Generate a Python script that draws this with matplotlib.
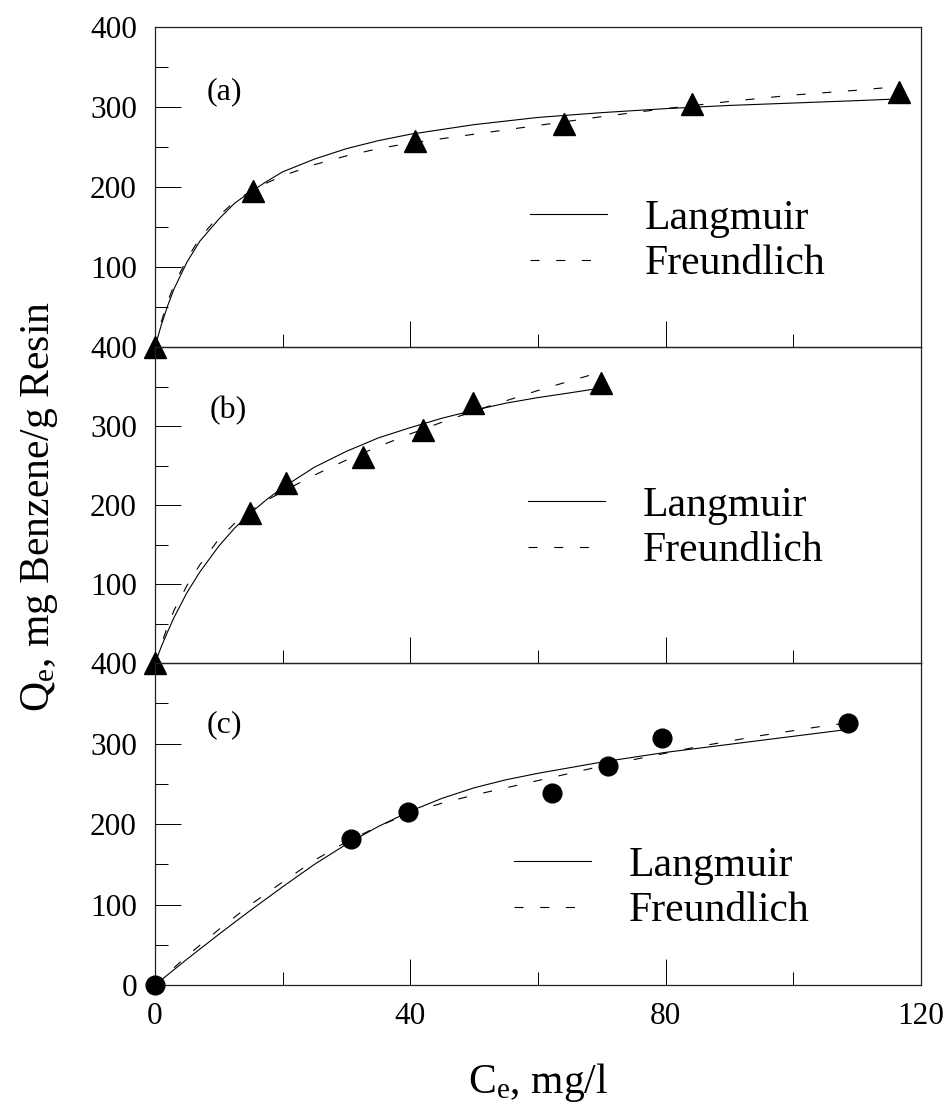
import matplotlib

matplotlib.use("Agg")
import matplotlib.pyplot as plt
from matplotlib.ticker import MultipleLocator

plt.rcParams["font.family"] = ["Liberation Serif", "DejaVu Serif"]
plt.rcParams["mathtext.fontset"] = "custom"
plt.rcParams["mathtext.rm"] = "Liberation Serif"
plt.rcParams["mathtext.it"] = "Liberation Serif:italic"
plt.rcParams["lines.scale_dashes"] = False

# (a) measured points and model curves
ce_a = [0, 15.3, 40.8, 64, 84.2, 116.5]
qe_a = [0, 195, 257, 279, 304, 319]
lang_x_a = [0, 1, 2, 3, 5, 7, 10, 12.5, 15, 17.5, 20, 25, 30, 35, 40, 50, 60, 70, 80, 90, 100, 110, 116]
lang_y_a = [0, 28, 52, 73, 106, 132, 160, 180, 194, 207, 219, 235, 248, 258, 266, 278, 287, 293, 298, 302, 305, 308, 310]
freu_x_a = [0, 1, 2, 3, 5, 7, 10, 12.5, 15, 17.5, 20, 25, 30, 35, 40, 50, 60, 70, 80, 90, 100, 110, 117]
freu_y_a = [0, 32, 57, 78, 110, 136, 164, 182, 195, 205, 214, 228, 239, 248, 255, 266, 277, 288, 298, 307, 315, 321, 326]

# (b)
ce_b = [0, 14.9, 20.5, 32.6, 42, 49.8, 69.9]
qe_b = [0, 190, 228, 261, 295, 329, 355]
lang_x_b = [0, 1, 2, 3, 5, 7, 10, 12.5, 15, 17.5, 20, 25, 30, 35, 40, 45, 50, 55, 60, 65, 69]
lang_y_b = [0, 21, 40, 58, 89, 115, 148, 171, 190, 207, 222, 248, 268, 285, 298, 310, 320, 329, 336, 342, 347]
freu_x_b = [0, 1, 2, 3, 5, 7, 10, 12.5, 15, 17.5, 20, 25, 30, 35, 40, 45, 50, 55, 60, 65, 68]
freu_y_b = [0, 24, 47, 67, 98, 124, 157, 177, 193, 206, 217, 238, 257, 274, 290, 305, 319, 332, 345, 357, 364]

# (c)
ce_c = [0, 30.7, 39.6, 62.2, 71, 79.5, 108.6]
qe_c = [0, 181, 215, 238, 272, 307, 325]
lang_x_c = [0, 5, 10, 15, 20, 25, 30, 35, 40, 45, 50, 55, 60, 65, 70, 75, 80, 85, 90, 95, 100, 105, 109]
lang_y_c = [0, 32, 63, 93, 122, 150, 175, 197, 216, 232, 245, 255, 263, 270, 277, 283, 289, 294, 299, 304, 309, 314, 318]
freu_x_c = [0, 5, 10, 15, 20, 25, 30, 35, 40, 45, 50, 55, 60, 65, 70, 75, 80, 85, 90, 95, 100, 105, 110]
freu_y_c = [0, 36, 69, 100, 128, 155, 178, 197, 214, 226, 236, 245, 254, 263, 272, 280, 288, 296, 303, 310, 316, 322, 327]

x_ticks = [0, 40, 80, 120]
y_ticks = [0, 100, 200, 300, 400]

TICK_SIZE = 22.5
LEGEND_SIZE = 30


def style_axis(ax, show_zero, show_x):
    ax.set_facecolor("none")
    ax.set_xlim(0, 120)
    ax.set_ylim(0, 400)
    ax.set_xticks(x_ticks)
    ax.xaxis.set_minor_locator(MultipleLocator(20))
    ax.yaxis.set_minor_locator(MultipleLocator(50))
    ax.set_yticks(y_ticks)
    ax.set_yticklabels([str(v) if (v != 0 or show_zero) else "" for v in y_ticks])
    if show_x:
        ax.set_xticklabels([str(v) for v in x_ticks])
    else:
        ax.set_xticklabels([])
    ax.tick_params(which="both", direction="in", top=False, right=False, width=0.7, colors="black")
    ax.tick_params(which="major", length=19, labelsize=TICK_SIZE)
    ax.tick_params(axis="y", which="major", pad=13)
    ax.tick_params(axis="x", which="major", pad=12)
    ax.tick_params(which="minor", length=9.5)
    for sp in ax.spines.values():
        sp.set_linewidth(0.9)
        sp.set_color("#222222")


def draw_panel(ax, ce, qe, marker, ms, lx, ly, fx, fy, tag, tag_xy, leg_xy, show_zero, show_x):
    style_axis(ax, show_zero, show_x)
    ax.plot(lx, ly, color="black", lw=0.8, label="Langmuir")
    ax.plot(fx, fy, color="black", lw=0.8, linestyle=(0, (6.5, 12)), label="Freundlich")
    ax.plot(ce, qe, linestyle="none", marker=marker, ms=ms, color="black", clip_on=False, zorder=5)
    ax.text(tag_xy[0], tag_xy[1], tag, transform=ax.transAxes, fontsize=23, ha="center", va="center")
    ax.legend(
        loc="center left",
        bbox_to_anchor=leg_xy,
        frameon=False,
        fontsize=LEGEND_SIZE,
        handlelength=1.85,
        handletextpad=0.9,
        labelspacing=0.17,
        borderpad=0,
        borderaxespad=0,
    )


def main():
    fig = plt.figure(figsize=(9.48, 11.08), dpi=100)
    left, width = 0.1635, 0.808
    ax_a = fig.add_axes([left, 0.6868, width, 0.2888])
    ax_b = fig.add_axes([left, 0.4016, width, 0.2852])
    ax_c = fig.add_axes([left, 0.1110, width, 0.2906])

    draw_panel(ax_a, ce_a, qe_a, "^", 16.5, lang_x_a, lang_y_a, freu_x_a, freu_y_a,
               "(a)", (0.091, 0.797), (0.49, 0.33), False, False)
    draw_panel(ax_b, ce_b, qe_b, "^", 16.5, lang_x_b, lang_y_b, freu_x_b, freu_y_b,
               "(b)", (0.095, 0.80), (0.487, 0.427), False, False)
    draw_panel(ax_c, ce_c, qe_c, "o", 13.5, lang_x_c, lang_y_c, freu_x_c, freu_y_c,
               "(c)", (0.090, 0.807), (0.469, 0.30), True, True)

    fig.text(0.042, 0.5433, r"Q$_\mathregular{e}$, mg Benzene/g Resin", rotation=90,
             fontsize=30, ha="center", va="center")
    fig.text(0.5675, 0.023, r"C$_\mathregular{e}$, mg/l", fontsize=30, ha="center", va="center")

    fig.savefig("out.png", dpi=100, facecolor="white")
    plt.close(fig)


if __name__ == "__main__":
    main()
